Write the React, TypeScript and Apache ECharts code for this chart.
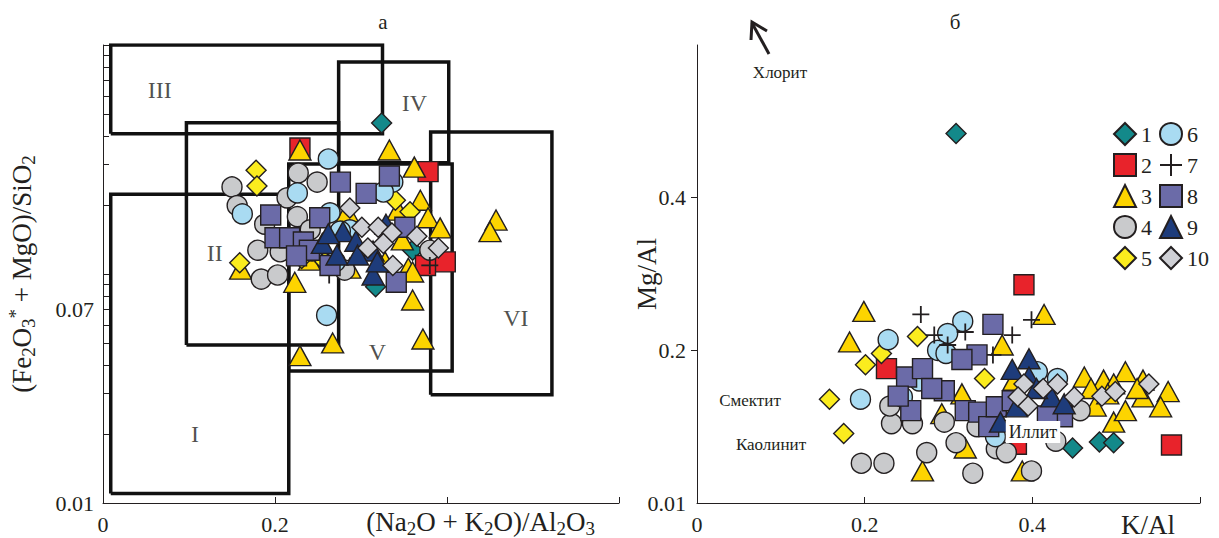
import { useEffect, useRef } from 'react';
import * as echarts from 'echarts';

// ---------- data ----------
const SERIES_NAMES = ['1', '2', '3', '4', '5', '6', '7', '8', '9', '10'];

// Panel а: x = (Na2O+K2O)/Al2O3, y = (Fe2O3*+MgO)/SiO2 (log)
const L1 = [[0.324, 0.456], [0.36, 0.127], [0.317, 0.088]];
const L2 = [[0.229, 0.355], [0.378, 0.28], [0.398, 0.113], [0.375, 0.109]];
const L3 = [[0.229, 0.348], [0.333, 0.348], [0.362, 0.293], [0.369, 0.21], [0.378, 0.176], [0.392, 0.159], [0.457, 0.172], [0.45, 0.153], [0.355, 0.106], [0.36, 0.102], [0.223, 0.092], [0.36, 0.077], [0.267, 0.05], [0.229, 0.044], [0.372, 0.052], [0.284, 0.187], [0.343, 0.19], [0.24, 0.115], [0.287, 0.106], [0.328, 0.113], [0.348, 0.141], [0.16, 0.105]];
const L4 = [[0.15, 0.24], [0.156, 0.199], [0.227, 0.276], [0.249, 0.252], [0.214, 0.215], [0.226, 0.178], [0.206, 0.125], [0.184, 0.095], [0.203, 0.099], [0.18, 0.127], [0.38, 0.127], [0.281, 0.104], [0.241, 0.156], [0.188, 0.165]];
const L5 = [[0.178, 0.284], [0.179, 0.242], [0.159, 0.112], [0.258, 0.113], [0.34, 0.21], [0.357, 0.187], [0.231, 0.117]];
const L6 = [[0.262, 0.318], [0.226, 0.226], [0.162, 0.183], [0.26, 0.066], [0.337, 0.252], [0.326, 0.228], [0.264, 0.185], [0.243, 0.126], [0.287, 0.156], [0.276, 0.154], [0.223, 0.141], [0.27, 0.113]];
const L7 = [[0.263, 0.099], [0.38, 0.109], [0.3, 0.121]];
const L8 = [[0.276, 0.252], [0.306, 0.225], [0.333, 0.268], [0.195, 0.181], [0.2, 0.144], [0.217, 0.144], [0.233, 0.138], [0.252, 0.176], [0.351, 0.16], [0.341, 0.092], [0.24, 0.127], [0.264, 0.109], [0.225, 0.12]];
const L9 = [[0.255, 0.136], [0.272, 0.121], [0.279, 0.153], [0.294, 0.139], [0.314, 0.126], [0.314, 0.099], [0.329, 0.165], [0.296, 0.121], [0.319, 0.113], [0.262, 0.15]];
const L10 = [[0.287, 0.194], [0.301, 0.16], [0.32, 0.16], [0.336, 0.151], [0.308, 0.13], [0.326, 0.136], [0.365, 0.146], [0.39, 0.13], [0.337, 0.109]];

// Panel б: x = K/Al, y = Mg/Al
const R1 = [[0.309, 0.484], [0.448, 0.072], [0.48, 0.08], [0.497, 0.079]];
const R2 = [[0.39, 0.286], [0.226, 0.176], [0.566, 0.076], [0.381, 0.077]];
const R3 = [[0.199, 0.251], [0.182, 0.211], [0.364, 0.207], [0.414, 0.247], [0.269, 0.042], [0.32, 0.072], [0.388, 0.042], [0.462, 0.165], [0.485, 0.161], [0.511, 0.172], [0.532, 0.161], [0.562, 0.146], [0.553, 0.126], [0.475, 0.127], [0.497, 0.106], [0.511, 0.121], [0.532, 0.139], [0.497, 0.156], [0.49, 0.143], [0.316, 0.143], [0.292, 0.117], [0.378, 0.161], [0.525, 0.15], [0.47, 0.15]];
const R4 = [[0.196, 0.052], [0.223, 0.052], [0.329, 0.039], [0.399, 0.042], [0.274, 0.066], [0.309, 0.079], [0.232, 0.104], [0.257, 0.104], [0.295, 0.106], [0.23, 0.127], [0.357, 0.071], [0.369, 0.066], [0.428, 0.081], [0.457, 0.121], [0.334, 0.1]];
const R5 = [[0.158, 0.136], [0.175, 0.091], [0.201, 0.181], [0.22, 0.196], [0.263, 0.218], [0.343, 0.163]];
const R6 = [[0.195, 0.136], [0.228, 0.214], [0.317, 0.238], [0.299, 0.222], [0.287, 0.2], [0.297, 0.196], [0.245, 0.139], [0.406, 0.172], [0.43, 0.163], [0.356, 0.087], [0.265, 0.16]];
const R7 = [[0.267, 0.247], [0.283, 0.22], [0.32, 0.224], [0.299, 0.207], [0.353, 0.194], [0.376, 0.22], [0.399, 0.24]];
const R8 = [[0.353, 0.234], [0.334, 0.194], [0.25, 0.165], [0.269, 0.176], [0.295, 0.147], [0.255, 0.121], [0.32, 0.121], [0.336, 0.119], [0.348, 0.1], [0.357, 0.126], [0.376, 0.134], [0.436, 0.113], [0.418, 0.114], [0.316, 0.188], [0.28, 0.15], [0.24, 0.14]];
const R9 = [[0.396, 0.189], [0.376, 0.175], [0.362, 0.106], [0.381, 0.126], [0.396, 0.165], [0.423, 0.139], [0.438, 0.13], [0.405, 0.15]];
const R10 = [[0.39, 0.156], [0.383, 0.139], [0.395, 0.127], [0.413, 0.15], [0.43, 0.156], [0.45, 0.139], [0.483, 0.14], [0.499, 0.146], [0.539, 0.156]];

// Classification fields of panel а: [x0, x1, y0, y1]
const BOX_NAMES = ['III', 'II', 'IV', 'V', 'VI', 'I'];
const BOXES = [
  [0.009, 0.325, 0.41, 1.0],
  [0.097, 0.274, 0.049, 0.458],
  [0.274, 0.402, 0.306, 0.843],
  [0.216, 0.406, 0.0377, 0.302],
  [0.381, 0.522, 0.0297, 0.417],
  [0.009, 0.216, 0.011, 0.223],
];
const BOX_LABEL_POS = [[0.066, 0.635], [0.13, 0.124], [0.362, 0.558], [0.319, 0.0457], [0.48, 0.0643], [0.107, 0.02]];

// Axis ticks
const LEFT_Y_TICKS = [0.01, 0.02, 0.03, 0.04, 0.05, 0.06, 0.07, 0.08, 0.09, 0.1, 0.2, 0.3, 0.4, 0.5, 0.6, 0.7, 0.8, 0.9, 1];
const LEFT_Y_LABELS = [0.01, 0.07];
const X_TICKS = [0.2, 0.4, 0.6];
const LEFT_X_LABELS = [0, 0.2];
const RIGHT_X_LABELS = [0, 0.2, 0.4];
const RIGHT_Y_TICKS = [0.2, 0.4];
const RIGHT_Y_LABELS = [0, 0.2, 0.4];

// ---------- styles ----------
const FONT = "'Liberation Serif', 'Times New Roman', serif";
const INK = '#231f20';
const PLUS = 'path://M5,0V10M0,5H10';
const STYLES = [
  { symbol: 'diamond', size: 20, color: '#13898a' },
  { symbol: 'rect', size: 20, color: '#e8232b' },
  { symbol: 'triangle', size: [22, 20], color: '#fdd400' },
  { symbol: 'circle', size: 20, color: '#c9cacc' },
  { symbol: 'diamond', size: 20, color: '#fbec1e' },
  { symbol: 'circle', size: 20, color: '#a9dbf2' },
  { symbol: PLUS, size: 17, color: INK },
  { symbol: 'rect', size: 20, color: '#6b6ba8' },
  { symbol: 'triangle', size: [22, 20], color: '#1e3c7b' },
  { symbol: 'diamond', size: 20, color: '#cfd0d5' },
];

const LEFT = [L1, L2, L3, L4, L5, L6, L7, L8, L9, L10];
const RIGHT = [R1, R2, R3, R4, R5, R6, R7, R8, R9, R10];

function scatter(data: number[][], i: number, grid: number, yIdx: number) {
  const s = STYLES[i];
  const isPlus = s.symbol === PLUS;
  return {
    type: 'scatter',
    name: SERIES_NAMES[i],
    xAxisIndex: grid,
    yAxisIndex: yIdx,
    data,
    symbol: s.symbol,
    symbolSize: s.size,
    z: 3,
    itemStyle: {
      color: isPlus ? 'rgba(0,0,0,0)' : s.color,
      borderColor: INK,
      borderWidth: isPlus ? 1.8 : 1.4,
      opacity: 1,
    },
    emphasis: { disabled: true },
  };
}

const sub = { fontSize: 19, lineHeight: 19, verticalAlign: 'bottom', fontFamily: FONT, color: INK };
const sup = { fontSize: 19, lineHeight: 19, verticalAlign: 'top', fontFamily: FONT, color: INK };
const subG = { fontSize: 19, lineHeight: 19, verticalAlign: 'bottom', fontFamily: FONT, fill: INK };

const axisText = { fontFamily: FONT, fontSize: 22, color: INK };
const nameText = { fontFamily: FONT, fontSize: 27, color: INK };

export default function App() {
  const ref = useRef<HTMLDivElement>(null);
  useEffect(() => {
    const chart = echarts.init(ref.current!, null, { renderer: 'svg' });
    const boxSeries = BOXES.map((b) => ({
      type: 'line',
      xAxisIndex: 0,
      yAxisIndex: 0,
      data: [[b[0], b[2]], [b[1], b[2]], [b[1], b[3]], [b[0], b[3]], [b[0], b[2]]],
      symbol: 'none',
      silent: true,
      z: 1,
      lineStyle: { color: '#111', width: 3.5, join: 'miter' },
    }));
    const option = {
      animation: false,
      backgroundColor: '#fff',
      textStyle: { fontFamily: FONT },
      grid: [
        { left: 103, top: 45, width: 516, height: 458 },
        { left: 697, top: 45, width: 503, height: 458 },
      ],
      legend: {
        data: SERIES_NAMES,
        orient: 'vertical',
        left: 1113,
        top: 122,
        height: 154,
        padding: 0,
        itemWidth: 22,
        itemHeight: 22,
        itemGap: 7,
        selectedMode: false,
        textStyle: { fontFamily: FONT, fontSize: 22, color: INK },
      },
      xAxis: [
        {
          gridIndex: 0,
          type: 'value',
          min: 0,
          max: 0.6,
          splitLine: { show: false },
          axisLine: { onZero: false, lineStyle: { color: INK, width: 1 } },
          axisTick: { inside: true, length: 6, customValues: X_TICKS, lineStyle: { color: INK } },
          axisLabel: { ...axisText, customValues: LEFT_X_LABELS, margin: 10 },
        },
        {
          gridIndex: 1,
          type: 'value',
          min: 0,
          max: 0.6,
          splitLine: { show: false },
          axisLine: { onZero: false, lineStyle: { color: INK, width: 1 } },
          axisTick: { inside: true, length: 6, customValues: X_TICKS, lineStyle: { color: INK } },
          axisLabel: { ...axisText, customValues: RIGHT_X_LABELS, margin: 10 },
          name: 'K/Al',
          nameLocation: 'end',
          nameGap: -52,
          nameMoveOverlap: false,
          nameTextStyle: { ...nameText, align: 'center', verticalAlign: 'top', padding: [8, 0, 0, 0] },
        },
      ],
      yAxis: [
        { gridIndex: 0, type: 'log', logBase: 10, min: 0.01, max: 1, show: false },
        {
          gridIndex: 0,
          type: 'value',
          position: 'left',
          min: -2,
          max: 0,
          splitLine: { show: false },
          axisLine: { show: true, onZero: false, lineStyle: { color: INK, width: 1 } },
          axisTick: { show: true, inside: true, length: 6, customValues: LEFT_Y_TICKS.map(Math.log10), lineStyle: { color: INK } },
          axisLabel: {
            ...axisText,
            margin: 9,
            customValues: LEFT_Y_LABELS.map(Math.log10),
            formatter: (v: number) => Math.pow(10, v).toFixed(2),
          },
          name: '(Fe{s|2}O{s|3}{p|*} + MgO)/SiO{s|2}',
          nameLocation: 'middle',
          nameGap: 65,
          nameMoveOverlap: false,
          nameTextStyle: { ...nameText, lineHeight: 32, rich: { s: sub, p: sup } },
        },
        {
          gridIndex: 1,
          type: 'value',
          min: 0,
          max: 0.6,
          splitLine: { show: false },
          axisLine: { show: true, onZero: false, lineStyle: { color: INK, width: 1 } },
          axisTick: { show: true, inside: false, length: 6, customValues: RIGHT_Y_TICKS, lineStyle: { color: INK } },
          axisLabel: {
            ...axisText,
            margin: 11,
            customValues: RIGHT_Y_LABELS,
            formatter: (v: number) => (v === 0 ? '0.01' : String(v)),
          },
          name: 'Mg/Al',
          nameLocation: 'middle',
          nameGap: 37,
          nameMoveOverlap: false,
          nameTextStyle: { ...nameText },
        },
      ],
      series: [
        ...boxSeries,
        {
          type: 'scatter',
          xAxisIndex: 0,
          yAxisIndex: 0,
          silent: true,
          z: 2,
          symbol: 'circle',
          symbolSize: 1,
          itemStyle: { color: 'rgba(0,0,0,0)' },
          data: BOX_NAMES.map((n, i) => ({ name: n, value: BOX_LABEL_POS[i] })),
          label: { show: true, position: 'inside', formatter: '{b}', fontFamily: FONT, fontSize: 24, color: INK },
        },
        ...LEFT.map((d, i) => scatter(d, i, 0, 0)),
        ...RIGHT.map((d, i) => scatter(d, i, 1, 2)),
      ],
      graphic: [
        { type: 'text', x: 383, y: 22, style: { text: 'а', fontFamily: FONT, fontSize: 21, fill: INK, align: 'center', verticalAlign: 'middle' } },
        { type: 'text', x: 955, y: 22, style: { text: 'б', fontFamily: FONT, fontSize: 21, fill: INK, align: 'center', verticalAlign: 'middle' } },
        {
          type: 'text',
          x: 595,
          y: 522,
          style: {
            text: '(Na{s|2}O + K{s|2}O)/Al{s|2}O{s|3}',
            fontFamily: FONT,
            fontSize: 27,
            lineHeight: 32,
            fill: INK,
            align: 'right',
            verticalAlign: 'middle',
            rich: { s: subG },
          },
        },
        { type: 'line', shape: { x1: 769, y1: 54, x2: 752, y2: 23 }, style: { stroke: INK, lineWidth: 3 } },
        { type: 'polyline', shape: { points: [[751, 40], [752, 22], [767, 31]] }, style: { stroke: INK, lineWidth: 3, fill: null } },
        { type: 'text', x: 780, y: 72, style: { text: 'Хлорит', fontFamily: FONT, fontSize: 17, fill: INK, align: 'center', verticalAlign: 'middle' } },
        { type: 'text', x: 750, y: 400, style: { text: 'Смектит', fontFamily: FONT, fontSize: 17, fill: INK, align: 'center', verticalAlign: 'middle' } },
        { type: 'text', x: 771, y: 444, style: { text: 'Каолинит', fontFamily: FONT, fontSize: 17, fill: INK, align: 'center', verticalAlign: 'middle' } },
        {
          type: 'text',
          x: 1033,
          y: 432,
          z: 100,
          style: { text: 'Иллит', fontFamily: FONT, fontSize: 18, fill: INK, align: 'center', verticalAlign: 'middle', backgroundColor: '#fff', padding: [2, 3] },
        },
      ],
    };
    chart.setOption(option as any);
    return () => chart.dispose();
  }, []);
  return <div ref={ref} style={{ position: 'absolute', left: 0, top: 0, width: 1219, height: 538 }} />;
}
